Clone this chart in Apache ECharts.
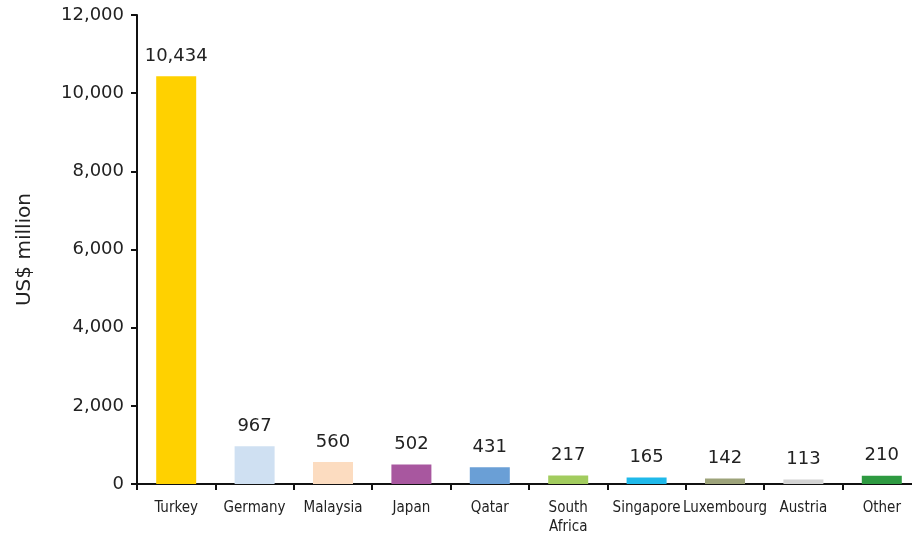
<!DOCTYPE html>
<html>
<head>
<meta charset="utf-8">
<script src="https://cdn.jsdelivr.net/npm/echarts@6/dist/echarts.min.js"></script>
<style>
  html, body { margin: 0; padding: 0; background: #fff; }
  #chart { width: 912px; height: 533px; }
</style>
</head>
<body>
<div id="chart"></div>
<script>
// Investment by source country, US$ million
const countries = ['Turkey', 'Germany', 'Malaysia', 'Japan', 'Qatar', 'South\nAfrica', 'Singapore', 'Luxembourg', 'Austria', 'Other'];
const values = [10434, 967, 560, 502, 431, 217, 165, 142, 113, 210];
const barColors = ['#FFD100', '#CFE0F2', '#FCDCC0', '#A8579F', '#6A9FD6', '#A2CC5E', '#1FB9EA', '#9DA37A', '#D3D3D3', '#2E9A41'];
const yTicks = [0, 2000, 4000, 6000, 8000, 10000, 12000];

const fmt = v => v.toLocaleString('en-US');

const chart = echarts.init(document.getElementById('chart'));
chart.setOption({
  animation: false,
  grid: { left: 137, right: -9, top: 15, bottom: 49, containLabel: false, outerBoundsMode: 'none' },
  xAxis: {
    type: 'category',
    data: countries,
    boundaryGap: true,
    axisLine: { lineStyle: { color: '#111', width: 2 } },
    axisTick: { show: true, length: 6, lineStyle: { color: '#111', width: 2 } },
    axisLabel: {
      interval: 0,
      color: '#222',
      fontFamily: '"DejaVu Sans Condensed", sans-serif',
      fontSize: 15,
      lineHeight: 19,
      margin: 15
    }
  },
  yAxis: {
    type: 'value',
    min: yTicks[0],
    max: yTicks[yTicks.length - 1],
    interval: 2000,
    name: 'US$ million',
    nameLocation: 'middle',
    nameGap: 102,
    nameRotate: 90,
    nameTextStyle: { fontFamily: 'DejaVu Sans', fontSize: 20, color: '#222' },
    splitLine: { show: false },
    axisLine: { show: true, lineStyle: { color: '#111', width: 2 } },
    axisTick: { show: true, length: 6, lineStyle: { color: '#111', width: 2 } },
    axisLabel: {
      color: '#222',
      fontFamily: 'DejaVu Sans',
      fontSize: 18,
      margin: 13,
      formatter: v => fmt(v)
    }
  },
  series: [{
    type: 'bar',
    barWidth: 40,
    data: values.map((v, i) => ({ value: v, itemStyle: { color: barColors[i] } })),
    label: {
      show: true,
      position: 'top',
      distance: 11,
      color: '#222',
      fontFamily: 'DejaVu Sans',
      fontSize: 18,
      formatter: p => fmt(p.value)
    }
  }]
});
</script>
</body>
</html>
